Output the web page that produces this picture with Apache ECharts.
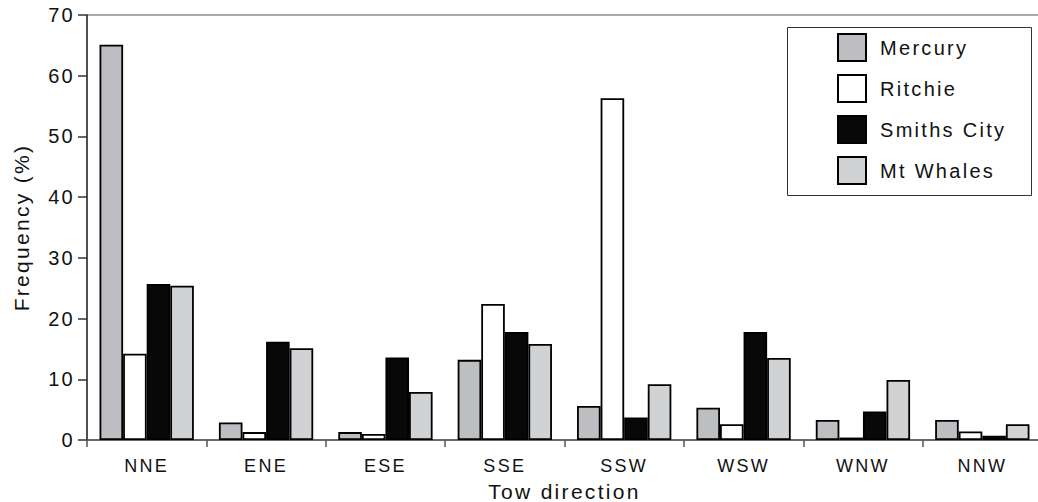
<!DOCTYPE html>
<html>
<head>
<meta charset="utf-8">
<script src="https://cdn.jsdelivr.net/npm/echarts@6/dist/echarts.min.js"></script>
<style>
  html, body { margin: 0; padding: 0; background: #fff; }
  #chart { width: 1038px; height: 502px; }
  #chart svg text { letter-spacing: 2.3px; }
</style>
</head>
<body>
<div id="chart"></div>
<script>
const categories = ['NNE', 'ENE', 'ESE', 'SSE', 'SSW', 'WSW', 'WNW', 'NNW'];
const mercury    = [65.1, 2.9, 1.3, 13.2, 5.6, 5.3, 3.3, 3.3];
const ritchie    = [14.2, 1.3, 1.0, 22.4, 56.3, 2.6, 0.4, 1.4];
const smithsCity = [25.7, 16.2, 13.6, 17.8, 3.7, 17.8, 4.7, 0.7];
const mtWhales   = [25.4, 15.1, 7.9, 15.8, 9.2, 13.5, 9.9, 2.6];
const yTicks = { min: 0, max: 70, interval: 10 };

const FONT = "'Liberation Sans', Arial, Helvetica, sans-serif";
const chart = echarts.init(document.getElementById('chart'), null, { renderer: 'svg' });

function barSeries(name, data, color) {
  return {
    name: name,
    type: 'bar',
    data: data,
    barGap: '0%',
    barCategoryGap: '21%',
    itemStyle: { color: color, borderColor: '#000', borderWidth: 1.8 }
  };
}

chart.setOption({
  animation: false,
  backgroundColor: '#fff',
  textStyle: { fontFamily: FONT },
  grid: {
    left: 87, top: 15, width: 955, height: 425,
    containLabel: false,
    outerBoundsMode: 'none',
    show: true, borderColor: '#555', borderWidth: 1, backgroundColor: 'transparent'
  },
  graphic: [{
    type: 'rect',
    left: 787, top: 27,
    shape: { width: 244, height: 168 },
    style: { fill: '#fff', stroke: '#333', lineWidth: 1 },
    z: 0
  }],
  legend: {
    orient: 'vertical',
    left: 837, top: 33,
    padding: 0,
    itemWidth: 28, itemHeight: 27, itemGap: 12,
    icon: 'rect',
    selectedMode: false,
    z: 5,
    textStyle: { fontFamily: FONT, fontSize: 20, color: '#111', padding: [0, 0, 0, 9] },
    data: ['Mercury', 'Ritchie', 'Smiths City', 'Mt Whales']
  },
  xAxis: {
    type: 'category',
    data: categories,
    name: 'Tow direction',
    nameLocation: 'middle',
    nameGap: 41,
    nameTextStyle: { fontFamily: FONT, fontSize: 21, color: '#111' },
    axisLine: { lineStyle: { color: '#555', width: 1.5 } },
    axisTick: { show: true, length: 7, lineStyle: { color: '#555', width: 1.5 } },
    axisLabel: { fontFamily: FONT, fontSize: 18, color: '#111', margin: 17 },
    splitLine: { show: false }
  },
  yAxis: {
    type: 'value',
    min: yTicks.min, max: yTicks.max, interval: yTicks.interval,
    name: 'Frequency (%)',
    nameLocation: 'middle',
    nameGap: 55,
    nameRotate: 90,
    nameTextStyle: { fontFamily: FONT, fontSize: 21, color: '#111' },
    axisLine: { show: true, lineStyle: { color: '#333', width: 1.5 } },
    axisTick: { show: true, length: 9, lineStyle: { color: '#333', width: 1.5 } },
    axisLabel: { fontFamily: FONT, fontSize: 20, color: '#111', margin: 12 },
    splitLine: { show: false }
  },
  series: [
    barSeries('Mercury', mercury, '#bdbec2'),
    barSeries('Ritchie', ritchie, '#ffffff'),
    barSeries('Smiths City', smithsCity, '#080808'),
    barSeries('Mt Whales', mtWhales, '#d1d2d4')
  ]
});
</script>
</body>
</html>
